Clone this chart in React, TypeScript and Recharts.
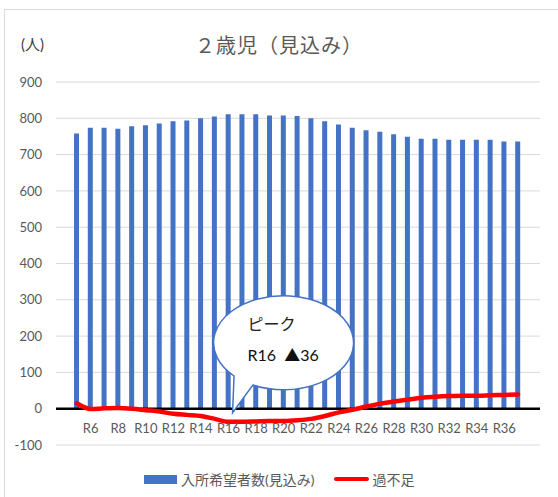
import React from 'react';
import { ComposedChart, Bar, Line, XAxis, YAxis, CartesianGrid, ReferenceLine, ReferenceDot } from 'recharts';

const years = [
  'R5', 'R6', 'R7', 'R8', 'R9', 'R10', 'R11', 'R12', 'R13', 'R14', 'R15',
  'R16', 'R17', 'R18', 'R19', 'R20', 'R21', 'R22', 'R23', 'R24', 'R25', 'R26',
  'R27', 'R28', 'R29', 'R30', 'R31', 'R32', 'R33', 'R34', 'R35', 'R36', 'R37',
];

// 入所希望者数(見込み)
const applicants = [
  758, 774, 774, 771, 778, 781, 786, 792, 794, 800, 805,
  811, 811, 811, 808, 808, 806, 800, 792, 783, 774, 767,
  763, 756, 749, 744, 744, 741, 741, 741, 741, 736, 736,
];

// 過不足
const balance = [
  15, -1, 1, 2, 0, -4, -8, -14, -17, -20, -28,
  -36, -36, -35, -34, -34, -32, -28, -20, -10, -3, 6,
  14, 20, 25, 30, 33, 35, 36, 36, 37, 38, 39,
];

const yTicks = [-100, 0, 100, 200, 300, 400, 500, 600, 700, 800, 900];

const data = years.map((year, i) => ({ year, applicants: applicants[i], balance: balance[i] }));

const peakIndex = balance.indexOf(Math.min(...balance));
const peakYear = years[peakIndex];
const peakValue = balance[peakIndex];

const FONT = 'Lato, "Noto Sans CJK JP", sans-serif';
const GRAY = '#595959';

const XTick = (props: any) => {
  const { x, y, payload, index } = props;
  if (index % 2 === 0) return null;
  return (
    <text x={x} y={y - 12} textAnchor="middle" fill={GRAY} fontSize={13} fontFamily={FONT}>
      {payload.value}
    </text>
  );
};

// speech bubble pointing at the peak shortage
const PeakBubble = (props: any) => {
  const { cx, cy } = props;
  const ex = cx + 55;
  const ey = cy - 79;
  const rx = 70;
  const ry = 47;
  const pt = (deg: number) => [ex + rx * Math.cos((deg * Math.PI) / 180), ey + ry * Math.sin((deg * Math.PI) / 180)];
  const [x1, y1] = pt(135);
  const [x2, y2] = pt(116);
  const d = `M${x1},${y1} A${rx},${ry} 0 1 1 ${x2},${y2} L${cx + 4},${cy - 9} Z`;
  return (
    <g>
      <path d={d} fill="#fff" stroke="#4472C4" strokeWidth={1.5} />
      <text x={ex - 36} y={ey - 13} fontSize={16} fill="#222" fontFamily={FONT}>ピーク</text>
      <text x={ex - 36} y={ey + 18} fontSize={16} fill="#111" fontFamily={FONT} style={{ whiteSpace: 'pre' }}>
        {`${peakYear}  ▲${Math.abs(peakValue)}`}
      </text>
    </g>
  );
};

export default function App() {
  return (
    <div style={{ position: 'relative', width: 558, height: 497, overflow: 'hidden', background: '#fff', fontFamily: FONT }}>
      <style>{'body{margin:0}'}</style>
      <div style={{ position: 'absolute', left: 4, top: 9, width: 700, height: 700, border: '1px solid #d9d9d9' }} />
      <div style={{ position: 'absolute', left: 0, width: 558, top: 30, textAlign: 'center', fontSize: 20, color: GRAY, letterSpacing: 1 }}>
        ２歳児（見込み）
      </div>
      <div style={{ position: 'absolute', left: 21, top: 33, fontSize: 15, color: '#404040' }}>(人)</div>

      <div style={{ position: 'absolute', top: 0, left: 0 }}>
        <ComposedChart width={558} height={497} data={data} margin={{ top: 82, right: 18, bottom: 22, left: 0 }}>
          <CartesianGrid vertical={false} stroke="#d9d9d9" />
          <XAxis
            dataKey="year"
            interval={0}
            axisLine={false}
            tickLine={false}
            tickSize={0}
            tickMargin={0}
            height={30}
            padding={{ left: 14, right: 15 }}
            tick={<XTick />}
          />
          <YAxis
            domain={[-100, 900]}
            ticks={yTicks}
            axisLine={false}
            tickLine={false}
            tickSize={0}
            tickMargin={14}
            width={56}
            tick={{ fill: GRAY, fontSize: 13, fontFamily: FONT }}
          />
          <Bar dataKey="applicants" name="入所希望者数(見込み)" fill="#4472C4" barSize={5} isAnimationActive={false} />
          <ReferenceLine y={0} stroke="#000" strokeWidth={2.5} />
          <Line
            type="monotone"
            dataKey="balance"
            name="過不足"
            stroke="#FF0000"
            strokeWidth={4.5}
            strokeLinecap="round"
            dot={false}
            activeDot={false}
            isAnimationActive={false}
          />
          <ReferenceDot x={peakYear} y={peakValue} shape={<PeakBubble />} />
        </ComposedChart>
      </div>

      <div style={{ position: 'absolute', top: 469, left: 144, display: 'flex', alignItems: 'center', fontSize: 14, color: GRAY }}>
        <span style={{ display: 'inline-block', width: 33, height: 9, background: '#4472C4', marginRight: 4 }} />
        <span>入所希望者数(見込み)</span>
        <span style={{ display: 'inline-block', width: 35, height: 4, borderRadius: 2, background: '#FF0000', marginLeft: 20, marginRight: 3 }} />
        <span>過不足</span>
      </div>
    </div>
  );
}
